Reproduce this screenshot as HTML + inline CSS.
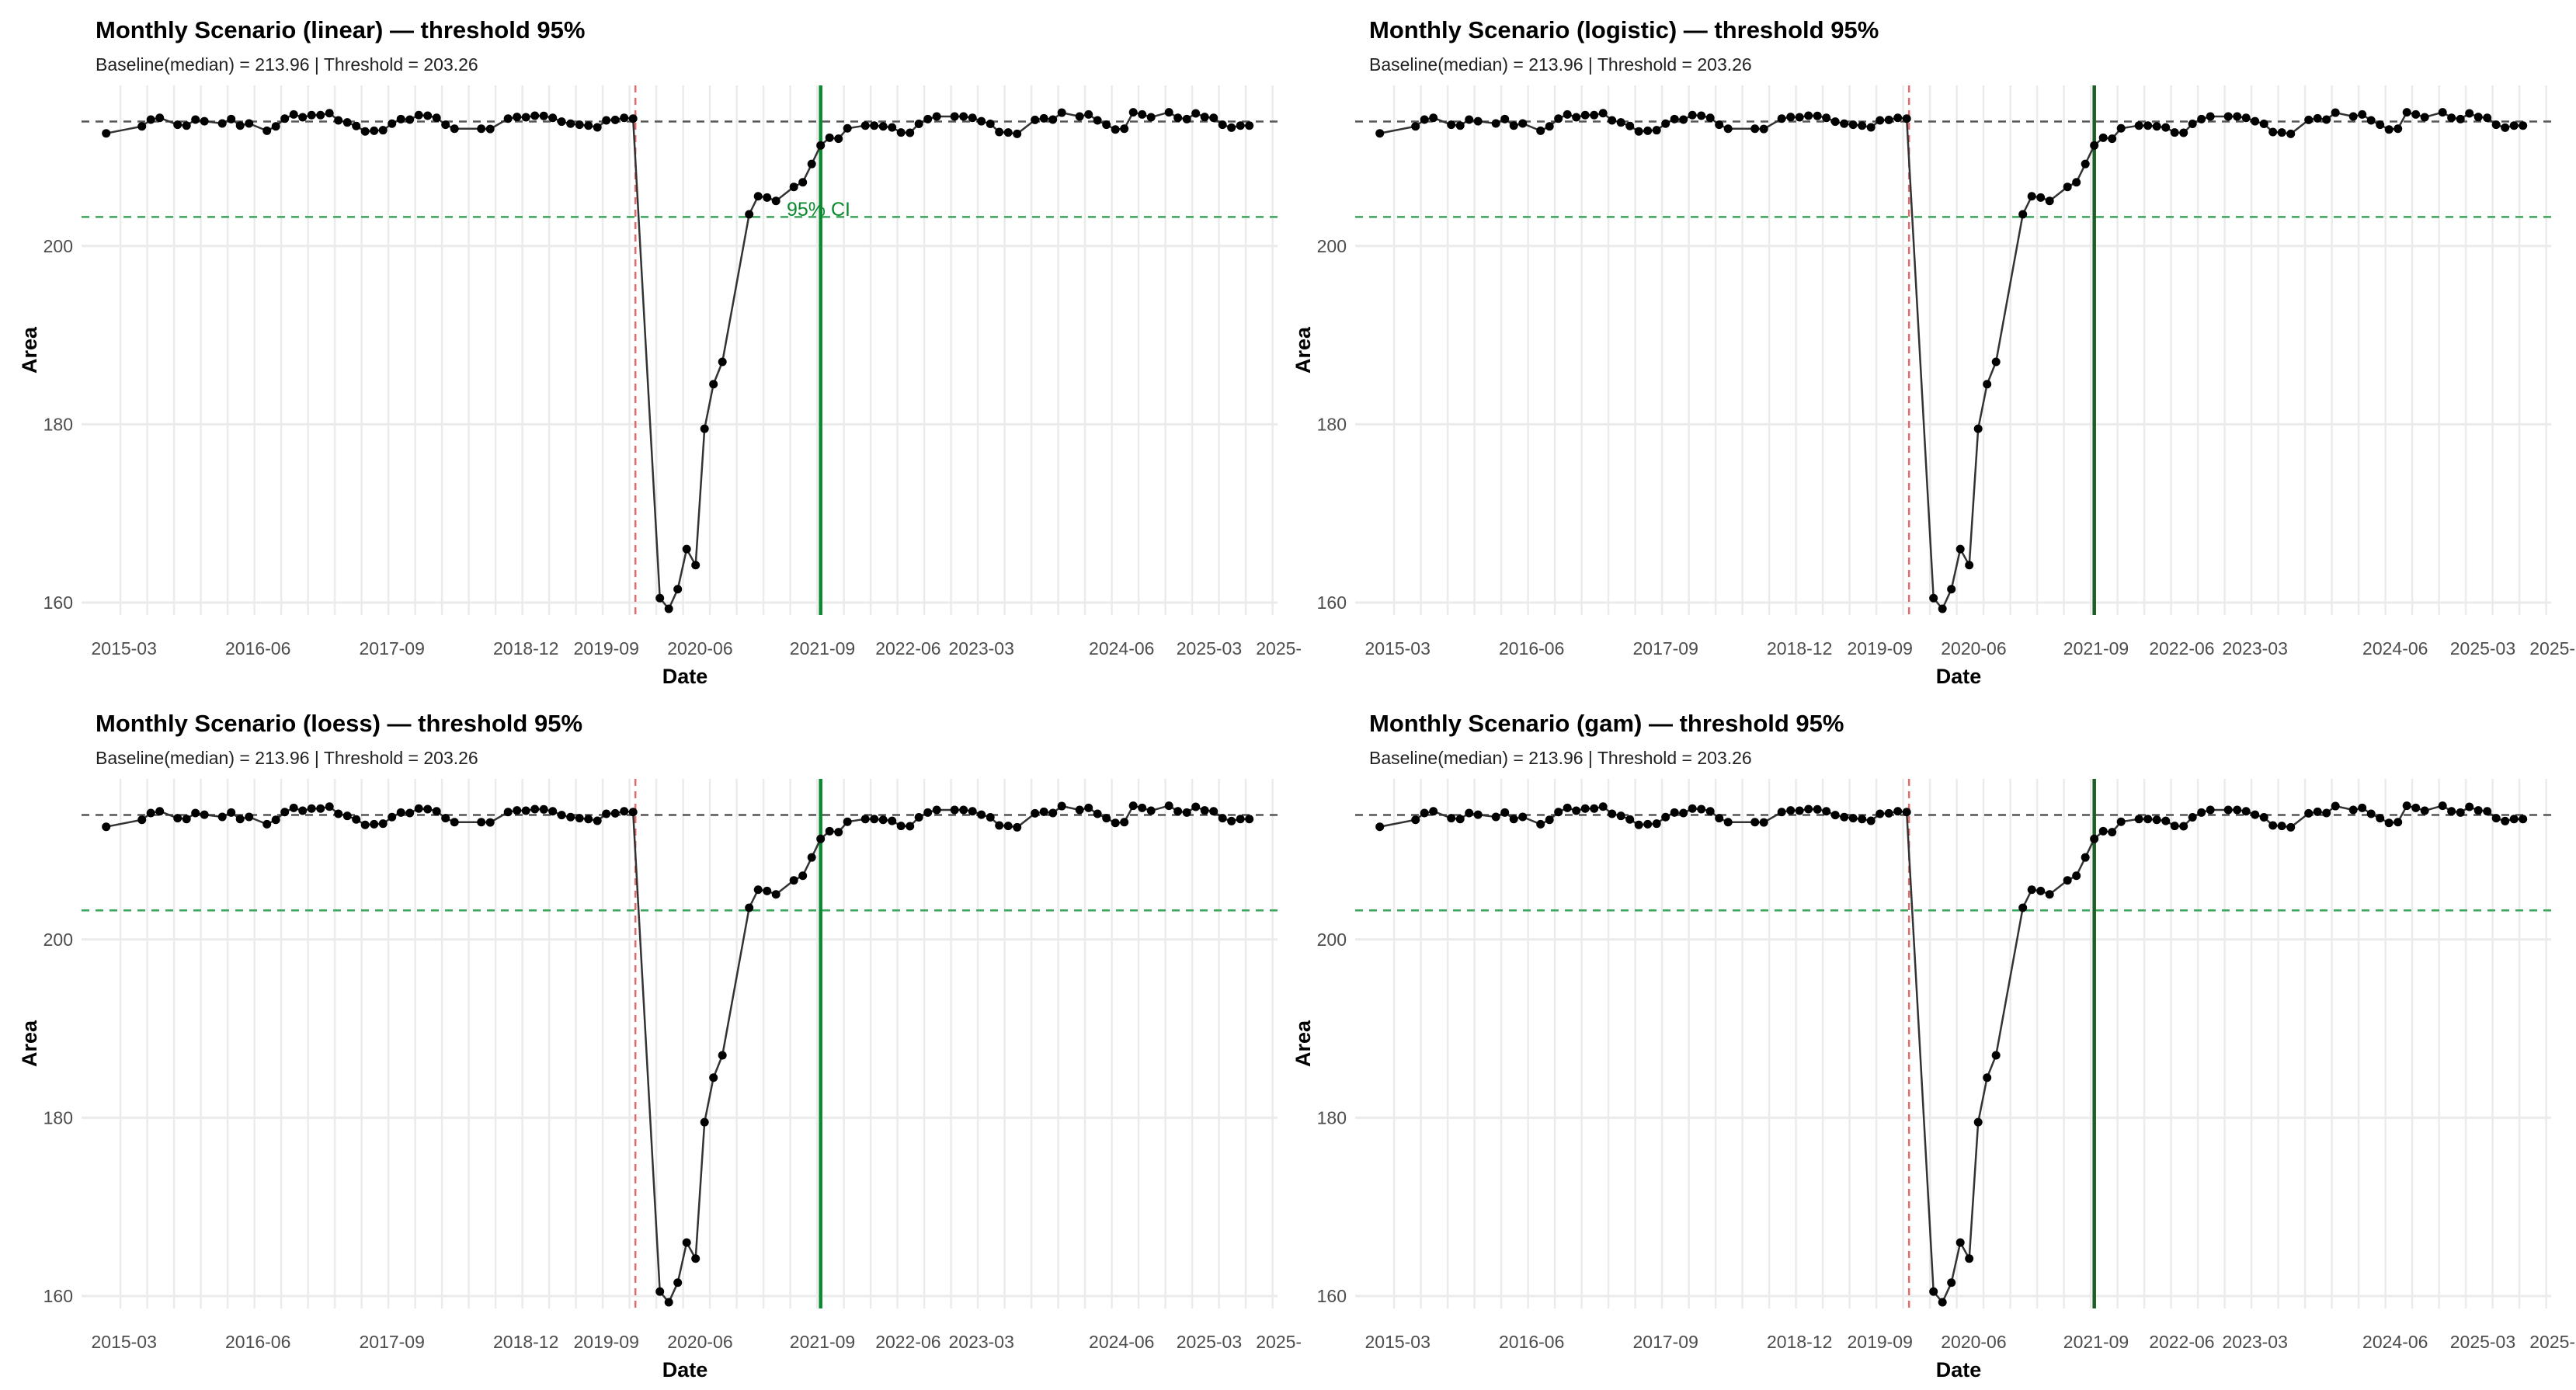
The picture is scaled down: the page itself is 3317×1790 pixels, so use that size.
<!DOCTYPE html>
<html><head><meta charset="utf-8"><style>
html,body{margin:0;padding:0;background:#fff}
svg{display:block}
text{font-family:"Liberation Sans",sans-serif}
</style></head><body>
<svg id="root" width="3317" height="1790" viewBox="0 0 3317 1790" xmlns="http://www.w3.org/2000/svg"></svg>
<script>
const monthIdx = [0,4,5,6,8,9,10,11,13,14,15,16,18,19,20,21,22,23,24,25,26,27,28,29,30,31,32,33,34,35,36,37,38,39,42,43,45,46,47,48,49,50,51,52,53,54,55,56,57,58,59,62,63,64,65,66,67,68,69,72,73,74,75,77,78,79,80,81,82,83,85,86,87,88,89,90,91,92,93,95,96,97,98,99,100,101,102,104,105,106,107,109,110,111,112,113,114,115,116,117,119,120,121,122,123,124,125,126,127,128];
const areaValues = [212.64,213.42,214.18,214.38,213.6,213.51,214.18,214.0,213.75,214.24,213.51,213.75,212.93,213.42,214.29,214.76,214.44,214.68,214.68,214.9,214.09,213.86,213.46,212.85,212.93,212.99,213.72,214.24,214.18,214.68,214.62,214.38,213.6,213.16,213.16,213.13,214.29,214.47,214.44,214.62,214.59,214.38,213.95,213.72,213.6,213.51,213.31,214.09,214.15,214.38,214.29,160.5,159.3,161.5,166.0,164.2,179.5,184.5,187.0,203.55,205.58,205.44,205.06,206.63,207.15,209.2,211.28,212.15,212.04,213.2,213.51,213.51,213.42,213.3,212.73,212.7,213.7,214.24,214.53,214.53,214.53,214.38,214.0,213.7,212.79,212.73,212.58,214.15,214.32,214.18,214.96,214.53,214.76,214.09,213.6,213.07,213.16,215.0,214.76,214.44,215.0,214.38,214.24,214.88,214.47,214.38,213.6,213.28,213.51,213.51];
const xTickLabels = ["2015-03","2016-06","2017-09","2018-12","2019-09","2020-06","2021-09","2022-06","2023-03","2024-06","2025-03","2025-"];
const xTickPos = [2,17,32,47,56,66.5,80.2,89.8,98,113.7,123.5,131.3];
const yTicks = [160,180,200];
const methods = ["linear","logistic","loess","gam"];
const baseline = 213.96, threshold = 203.26;
const interventionIdx = 59, recoveryIdx = 80;

const NS = "http://www.w3.org/2000/svg";
const root = document.getElementById('root');
function mk(tag, attrs, parent){const e=document.createElementNS(NS,tag);for(const k in attrs)e.setAttribute(k,attrs[k]);parent.appendChild(e);return e;}

const offsets = [[0,0],[1640,0],[0,893],[1640,893]];
methods.forEach((m, p) => {
  const [dx, dy] = offsets[p];
  const g = mk('g', {transform:`translate(${dx},${dy})`}, root);
  
  
  const X = i => 136.7 + 11.5 * i;
  const Y = v => 316.8 - (v - 200) * 11.48;
  const top = 110, bot = 792, left = 105, right = 1645;
  for (let i = 1.6; X(i) <= right; i += 3) {
    const l = mk('line', {x1:X(i),x2:X(i),y1:top,y2:bot,stroke:'#ebebeb','stroke-width':2.5}, g);
    
    
  }
  yTicks.forEach(t => {
    const l = mk('line', {x1:left,x2:right,y1:Y(t),y2:Y(t),stroke:'#ebebeb','stroke-width':3}, g);
    
    
    const tx = mk('text', {x:94,y:Y(t)+8,'text-anchor':'end','font-size':23,fill:'#4d4d4d'}, g);
    tx.textContent = t;
    
    
  });
  xTickLabels.forEach((lab, k) => {
    const tx = mk('text', {x:X(xTickPos[k]),y:843,'text-anchor':'middle','font-size':23,fill:'#4d4d4d'}, g);
    tx.textContent = lab;
    
    
  });
  const bl = mk('line', {x1:left,x2:right,y1:Y(baseline),y2:Y(baseline),stroke:'#555','stroke-width':2.5,'stroke-dasharray':'10 8'}, g);
  
  
  const th = mk('line', {x1:left,x2:right,y1:Y(threshold),y2:Y(threshold),stroke:'#3aa55a','stroke-width':2.5,'stroke-dasharray':'10 8'}, g);
  
  
  const rl = mk('line', {x1:X(interventionIdx)+3,x2:X(interventionIdx)+3,y1:top,y2:bot,stroke:'#e36b6b','stroke-width':2.5,'stroke-dasharray':'9 7'}, g);
  
  
  const gc = (p % 2 === 0) ? '#0a8a2e' : '#1d5e24';
  const gl = mk('line', {x1:X(recoveryIdx),x2:X(recoveryIdx),y1:top,y2:bot,stroke:gc,'stroke-width':4.5}, g);
  
  
  let d = '';
  monthIdx.forEach((i, k) => { d += (k ? 'L' : 'M') + X(i).toFixed(1) + ',' + Y(areaValues[k]).toFixed(1); });
  const path = mk('path', {d:d,fill:'none',stroke:'#333','stroke-width':2.5}, g);
  
  
  monthIdx.forEach((i, k) => {
    const c = mk('circle', {cx:X(i),cy:Y(areaValues[k]),r:5.5,fill:'#000'}, g);
    
    
  });
  if (p === 0) {
    const ci = mk('text', {x:1013,y:278,'font-size':25,fill:'#0a8a2e'}, g);
    ci.textContent = '95% CI';
    
    
  }
  const ti = mk('text', {x:123,y:49,'font-size':31,'font-weight':'bold',fill:'#000'}, g);
  ti.textContent = 'Monthly Scenario (' + m + ') \u2014 threshold 95%';
  
  
  const st = mk('text', {x:123,y:91,'font-size':23,fill:'#222'}, g);
  st.textContent = 'Baseline(median) = 213.96 | Threshold = 203.26';
  
  
  const xt = mk('text', {x:882,y:880,'text-anchor':'middle','font-size':27,'font-weight':'bold',fill:'#000'}, g);
  xt.textContent = 'Date';
  
  
  const yt = mk('text', {x:0,y:0,'text-anchor':'middle','font-size':27,'font-weight':'bold',fill:'#000',transform:'translate(47,451) rotate(-90)'}, g);
  yt.textContent = 'Area';
  
  
});
</script>
</body></html>
